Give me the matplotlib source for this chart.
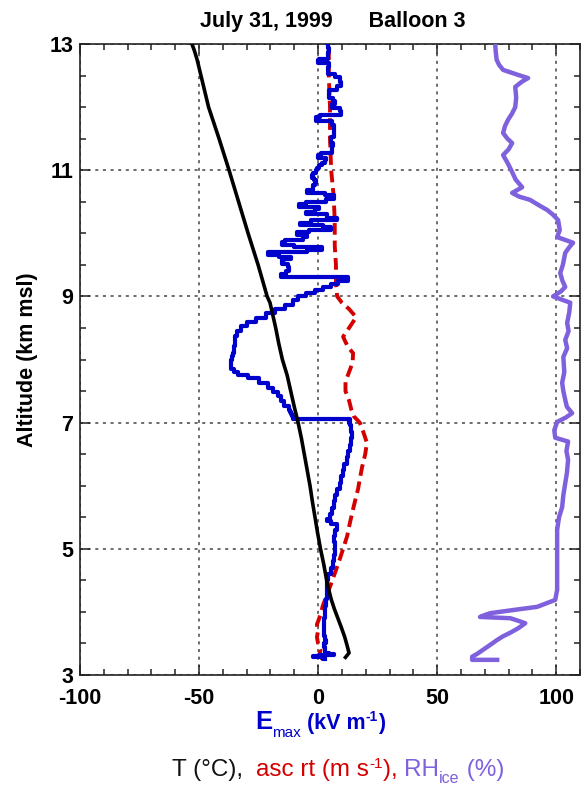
import matplotlib
matplotlib.use("Agg")
import matplotlib.pyplot as plt
from matplotlib.ticker import MultipleLocator, FixedLocator

plt.rcParams['font.family'] = ['Liberation Sans', 'DejaVu Sans']
plt.rcParams['axes.unicode_minus'] = False

# ---------------- data ----------------
title_text = "July 31, 1999      Balloon 3"
ylabel_text = "Altitude (km msl)"

# Temperature (deg C)
temp_alt = [3.28, 3.35, 3.45, 3.6, 3.75, 3.9, 4.05, 4.2, 4.35, 4.5, 4.75, 5.0, 5.25, 5.5, 5.75,
            6.0, 6.25, 6.5, 6.75, 7.0, 7.25, 7.5, 7.75, 8.0, 8.25, 8.5, 8.75, 8.9, 9.0, 9.25,
            9.5, 9.75, 10.0, 10.25, 10.5, 10.75, 11.0, 11.25, 11.5, 11.75, 12.0, 12.25, 12.5,
            12.75, 12.9, 13.0]
temp_val = [11.5, 13.0, 12.3, 11.2, 9.8, 8.3, 6.8, 5.5, 4.5, 3.6, 2.4, 1.0, -0.2, -1.3, -2.4,
            -3.4, -4.6, -5.8, -7.0, -8.4, -10.0, -11.5, -13.0, -15.0, -16.5, -17.8, -19.3, -20.2, -21.4, -23.3,
            -25.2, -27.3, -29.4, -31.4, -33.4, -35.4, -37.4, -39.5, -41.6, -43.8, -46.0, -47.6, -49.2,
            -50.8, -52.0, -53.0]

# Ascent rate (m/s)
asc_alt = [3.25, 3.3, 3.4, 3.5, 3.6, 3.7, 3.8, 3.9, 4.0, 4.1, 4.2, 4.3, 4.45, 4.62, 4.8,
           5.0, 5.2, 5.4, 5.6, 5.8, 5.95, 6.1, 6.3, 6.5, 6.68, 6.85, 7.0, 7.1, 7.2, 7.35,
           7.5, 7.65, 7.8, 7.95, 8.1, 8.2, 8.36, 8.5, 8.67, 8.8, 8.9, 9.0, 9.2, 9.5, 9.8,
           10.2, 10.6, 11.0, 11.5, 12.0, 12.5, 13.0]
asc_val = [2.0, 0.5, 1.0, 0.0, -0.5, 0.0, -0.5, 0.5, 1.3, 2.0, 3.0, 4.0, 5.5, 7.1, 8.8,
           10.5, 12.2, 13.3, 14.5, 15.8, 16.8, 17.5, 18.5, 19.8, 20.5, 19.0, 17.5, 15.0, 14.0, 13.0,
           11.5, 11.5, 13.0, 14.5, 14.7, 12.5, 10.5, 13.0, 16.0, 13.0, 10.0, 8.0, 7.5, 7.5, 7.0,
           7.0, 6.5, 5.5, 5.0, 5.0, 4.5, 4.5]

# RH over ice (%)
rh_alt = [3.24, 3.24, 3.29, 3.34, 3.4, 3.47, 3.55, 3.61, 3.67, 3.74, 3.82, 3.86, 3.9, 3.92, 3.95,
          3.98, 4.03, 4.08, 4.19, 4.35, 4.8, 5.3, 5.5, 5.66, 5.85, 6.04, 6.2, 6.41, 6.55, 6.7,
          6.76, 6.88, 7.01, 7.08, 7.15, 7.25, 7.36, 7.5, 7.63, 7.8, 8.04, 8.18, 8.31, 8.45,
          8.58, 8.75, 8.9, 9.0, 9.08, 9.15, 9.25, 9.37, 9.5, 9.69, 9.78, 9.85, 9.94, 10.05,
          10.21, 10.3, 10.37, 10.45, 10.53, 10.58, 10.64, 10.73, 10.85, 10.97, 11.1, 11.24,
          11.33, 11.43, 11.5, 11.59, 11.7, 11.8, 11.9, 12.0, 12.15, 12.32, 12.4, 12.46,
          12.51, 12.59, 12.67, 12.75, 12.88, 13.0]
rh_val = [75.2, 64.7, 64.7, 67.0, 69.3, 72.0, 75.0, 77.5, 80.7, 84.0, 87.0, 84.0, 80.7, 68.0, 70.0,
          72.3, 82.0, 92.0, 99.6, 100.4, 100.4, 100.4, 101.2, 102.5, 103.0, 103.8, 104.5, 105.0, 104.3, 105.0,
          99.6, 99.2, 100.4, 104.0, 106.7, 104.5, 103.8, 103.0, 102.5, 103.4, 103.0, 104.6, 103.8, 105.2,
          104.6, 105.5, 105.9, 98.7, 102.0, 103.8, 102.6, 101.7, 102.8, 103.8, 105.5, 107.1, 100.4, 101.5,
          100.8, 98.5, 96.2, 92.5, 89.0, 84.5, 81.5, 85.7, 83.0, 81.5, 79.8, 77.7,
          80.0, 81.5, 79.5, 77.7, 78.5, 79.8, 81.5, 82.8, 83.2, 82.8, 85.5, 88.2,
          84.0, 77.7, 76.0, 75.0, 74.6, 74.4]

# Emax (kV/m)
emax_alt = [3.25, 3.28, 3.30, 3.32, 3.33, 3.35, 3.4, 3.45, 3.5, 3.56, 3.62, 3.7, 3.78, 3.85,
            3.9, 4.0, 4.1, 4.2, 4.3, 4.4, 4.5, 4.6, 4.7, 4.8, 4.9, 5.0, 5.1, 5.2, 5.3, 5.4,
            5.44, 5.47, 5.55, 5.65, 5.75, 5.85, 5.95, 6.05, 6.15, 6.25, 6.35, 6.45, 6.55, 6.65,
            6.75, 6.85, 6.92, 6.96, 7.0, 7.03, 7.05, 7.06, 7.1, 7.13, 7.17, 7.2, 7.27, 7.35,
            7.42, 7.48, 7.55, 7.62, 7.7, 7.76, 7.8, 7.85, 7.9, 7.95, 8.0, 8.05, 8.1, 8.16,
            8.22, 8.3, 8.37, 8.45, 8.53, 8.6, 8.66, 8.74, 8.8, 8.87, 8.94, 9.0, 9.05, 9.1,
            9.15, 9.2, 9.25, 9.3, 9.31, 9.35, 9.4, 9.47, 9.52, 9.58, 9.6, 9.62, 9.65, 9.7,
            9.74, 9.78, 9.82, 9.86, 9.9, 9.94, 9.98, 10.02, 10.05, 10.1, 10.13, 10.17, 10.21,
            10.25, 10.3, 10.34, 10.38, 10.42, 10.47, 10.5, 10.55, 10.6, 10.64, 10.68, 10.72,
            10.76, 10.8, 10.84, 10.88, 10.92, 10.96, 11.0, 11.04, 11.08, 11.12, 11.16, 11.2,
            11.24, 11.28, 11.33, 11.38, 11.43, 11.48, 11.53, 11.6, 11.66, 11.72, 11.78, 11.84,
            11.88, 11.94, 11.98, 12.05, 12.1, 12.15, 12.2, 12.27, 12.33, 12.4, 12.47, 12.52,
            12.58, 12.63, 12.7, 12.74, 12.77, 12.83, 12.88, 12.94, 13.0]
emax_val = [3.0, 1.0, -5.5, 6.0, 7.5, 2.0, 3.5, 2.0, 3.0, 3.5, 2.0, 3.0, 1.8, 3.0,
            2.2, 3.5, 2.5, 4.0, 3.2, 4.2, 3.2, 5.0, 5.8, 7.0, 6.5, 7.5, 6.5, 7.0, 7.5, 8.2,
            3.0, 4.5, 5.5, 6.5, 7.0, 7.5, 8.5, 9.5, 10.0, 10.5, 11.5, 12.5, 13.0, 13.5,
            14.0, 14.5, 13.0, 15.0, 12.0, 14.0, 12.5, -9.0, -12.5, -9.5, -13.0, -11.0, -13.5, -15.0,
            -16.5, -17.5, -20.0, -22.5, -27.0, -32.0, -35.0, -36.0, -37.5, -36.0, -37.0, -35.5, -36.0, -35.0,
            -35.5, -34.5, -35.0, -33.0, -32.0, -28.0, -24.0, -20.0, -16.0, -12.0, -9.0, -7.5, -3.0, 0.0,
            4.0, 7.0, 10.0, 15.0, -17.0, -14.0, -13.0, -11.5, -14.0, -16.5, -12.0, -10.5, -22.5, -20.0,
            11.0, -8.0, -12.0, -18.0, -10.0, -2.5, -7.0, -10.5, 3.0, 7.5, -3.0, -12.0, 6.0,
            9.5, -2.0, -8.0, 5.0, -4.0, -12.0, 2.0, 5.0, 8.5, -3.0, -6.5, 2.0,
            -6.0, 3.0, -5.0, 1.5, -6.5, 2.5, -4.0, 3.0, -2.0, 5.0, 1.0, 6.0,
            -6.0, 8.5, 3.0, 8.5, 4.0, 6.5, 4.5, 8.5, 5.0, 8.5, 3.0, -4.5,
            6.0, 13.0, 5.0, 6.5, 7.5, 5.0, 4.0, 5.5, 10.0, 9.0, 9.5, 5.0,
            3.0, 5.5, 4.0, -4.5, 5.0, 3.0, 5.5, 4.0, 4.0]

x_major = [-100, -50, 0, 50, 100]
y_major = [3, 5, 7, 9, 11, 13]

# ---------------- figure ----------------
W, H = 581, 785
fig = plt.figure(figsize=(W / 100, H / 100), dpi=100)
ax = fig.add_axes([80 / W, 110 / H, 500 / W, 631 / H])

blue = '#0000cc'
red = '#d40000'
purple = '#7f60dd'

ax.plot(asc_val, asc_alt, color=red, lw=2.8, dashes=(3, 1.5), zorder=3)
ax.plot(emax_val, emax_alt, color=blue, lw=3.0, zorder=4, drawstyle='steps-mid')
ax.plot(temp_val, temp_alt, color='black', lw=2.6, zorder=5)
ax.plot(rh_val, rh_alt, color=purple, lw=3.2, zorder=4)

ax.set_xlim(-100, 110)
ax.set_ylim(3, 13)
ax.xaxis.set_major_locator(FixedLocator(x_major))
ax.xaxis.set_minor_locator(MultipleLocator(10))
ax.yaxis.set_major_locator(FixedLocator(y_major))
ax.yaxis.set_minor_locator(MultipleLocator(0.5))
ax.tick_params(which='both', direction='in', top=True, right=True, width=1.1, color='#222222')
ax.tick_params(which='major', length=7)
ax.tick_params(which='minor', length=4)
ax.tick_params(axis='x', which='major', pad=9, labelsize=15.5)
ax.tick_params(axis='y', which='major', pad=5, labelsize=15.5)
for lab in ax.get_xticklabels() + ax.get_yticklabels():
    lab.set_fontweight('bold')
for sp in ax.spines.values():
    sp.set_linewidth(1.2)
    sp.set_color('#222222')
ax.grid(True, which='major', color='#444444', lw=1.1, linestyle=(0, (2, 3)))

ax.set_ylabel(ylabel_text, fontsize=15.5, fontweight='bold', labelpad=8)

fig.text(333 / W, 1 - 22 / H, title_text, ha='center', va='center',
         fontsize=15.5, fontweight='bold')

renderer = fig.canvas.get_renderer()


def draw_pieces(pieces, xc, ybase):
    texts = []
    for s, kw, dy in pieces:
        t = fig.text(0, 0, s, va='baseline', ha='left', **kw)
        texts.append((t, dy))
    widths = [t.get_window_extent(renderer).width for t, _ in texts]
    total = sum(widths)
    x = xc - total / 2
    for (t, dy), w in zip(texts, widths):
        t.set_position((x / W, 1 - (ybase - dy) / H))
        x += w


bb = dict(color=blue, fontweight='bold', fontsize=15.5)
draw_pieces([
    ("E", dict(color=blue, fontweight='bold', fontsize=18.5), 0),
    ("max", dict(color=blue, fontsize=11), -8),
    (" (kV m", bb, 0),
    ("-1", dict(color=blue, fontweight='bold', fontsize=10), 8),
    (")", bb, 0),
], 320, 729)

rk = dict(color=red, fontsize=17.5)
pk = dict(color=purple, fontsize=17.5)
draw_pieces([
    ("T (\u00b0C),  ", dict(color='#111111', fontsize=17.5), 0),
    ("asc rt (m s", rk, 0),
    ("-1", dict(color=red, fontsize=11), 8),
    ("), ", rk, 0),
    ("RH", pk, 0),
    ("ice", dict(color=purple, fontsize=11.5), -7),
    (" (%)", pk, 0),
], 338, 776)

fig.savefig("out.png", dpi=100)
